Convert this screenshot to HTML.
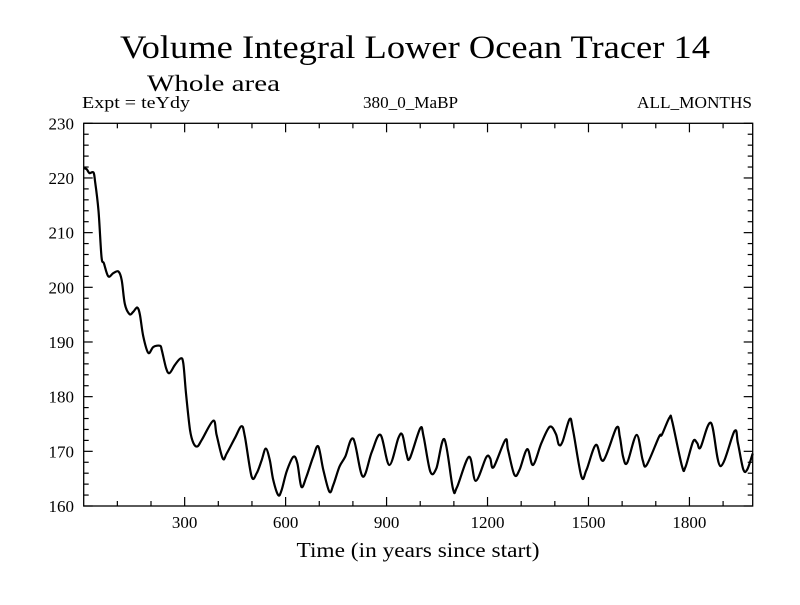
<!DOCTYPE html>
<html><head><meta charset="utf-8"><style>
body{margin:0;background:#fff}
svg text{font-family:"Liberation Serif",serif;fill:#000}
</style></head><body>
<svg id="chart" width="800" height="600" viewBox="0 0 800 600">
<text x="415" y="58" font-size="33" text-anchor="middle" textLength="590" lengthAdjust="spacingAndGlyphs">Volume Integral Lower Ocean Tracer 14</text>
<text x="147" y="91" font-size="23" textLength="133" lengthAdjust="spacingAndGlyphs">Whole area</text>
<text x="82" y="108" font-size="17" textLength="108" lengthAdjust="spacingAndGlyphs">Expt = teYdy</text>
<text x="363" y="108" font-size="17" textLength="95" lengthAdjust="spacingAndGlyphs">380_0_MaBP</text>
<text x="752" y="108" font-size="17" text-anchor="end" textLength="115" lengthAdjust="spacingAndGlyphs">ALL_MONTHS</text>
<text x="418" y="557" font-size="21" text-anchor="middle" textLength="243" lengthAdjust="spacingAndGlyphs">Time (in years since start)</text>
<g id="axes"></g>
<path id="series" fill="none" stroke="#000" stroke-width="2.2" stroke-linejoin="round"></path>
</svg>
<script>
const years=[1,9,17,29,34,44,53,60,73,88,103,113,122,136,147,159,167,177,192,207,227,232,245,255,271,288,296,304,316,326,338,351,385,395,413,425,449,469,479,499,514,529,541,553,563,578,588,603,623,635,647,662,682,697,712,730,742,760,777,801,829,856,882,908,935,947,959,969,1000,1010,1030,1048,1072,1097,1109,1145,1165,1196,1208,1218,1253,1261,1280,1295,1318,1335,1360,1385,1403,1412,1423,1444,1454,1479,1494,1522,1544,1583,1593,1603,1615,1643,1661,1673,1710,1718,1741,1749,1778,1788,1811,1823,1833,1864,1892,1934,1944,1960,1972,1988];
const values=[221.8,221.6,220.9,221,219.3,214,205.6,204.4,202,202.6,202.9,201.3,197,195.1,195.5,196.3,195,191,188,189.1,189.3,188.5,185.2,184.3,185.8,187,186.1,180.6,173.9,171.5,170.9,172.1,175.6,173,168.7,169.6,172.4,174.6,172.7,165.4,166,168.4,170.5,168.4,164.8,162,162.9,166.3,169,167.8,163.5,165.4,169,170.9,166.6,162.6,163.9,167.2,169,172.3,165.4,169.9,173,167.5,172.4,173,169.6,168.7,174.2,172.7,166.3,166.9,172.2,163.2,163.4,169,164.6,168.9,168.7,167.1,172.1,170.2,165.7,166.6,170.4,167.5,171.5,174.5,173.2,171.2,171.8,175.9,173.9,165.4,166.6,171.2,168.3,174.3,172.7,169,167.9,173,168.4,167.5,172.7,173,176.2,175.4,167.3,167.1,171.8,171.5,170.7,175.2,167.3,173.7,171.5,166.7,166.7,169.6];
const xTicks=[300,600,900,1200,1500,1800];
const yTicks=[160,170,180,190,200,210,220,230];
const X0=83.7,X1=752.7,Y0=506,Y1=123.3,XMIN=0,XMAX=1988,YMIN=160,YMAX=230;
const sx=v=>X0+(v-XMIN)/(XMAX-XMIN)*(X1-X0);
const sy=v=>Y0-(v-YMIN)/(YMAX-YMIN)*(Y0-Y1);
const NS="http://www.w3.org/2000/svg";
const ax=document.getElementById('axes');
function ln(x1,y1,x2,y2,name){const l=document.createElementNS(NS,'line');l.setAttribute('x1',x1);l.setAttribute('y1',y1);l.setAttribute('x2',x2);l.setAttribute('y2',y2);l.setAttribute('stroke','#000');l.setAttribute('stroke-width','1.2');


ax.appendChild(l);}
function tx(x,y,s,anchor,name){const t=document.createElementNS(NS,'text');t.setAttribute('x',x);t.setAttribute('y',y);t.setAttribute('font-size','17');t.setAttribute('text-anchor',anchor);t.textContent=s;


ax.appendChild(t);}
const fr=document.createElementNS(NS,'rect');
fr.setAttribute('x',X0);fr.setAttribute('y',Y1);fr.setAttribute('width',X1-X0);fr.setAttribute('height',Y0-Y1);fr.setAttribute('fill','none');fr.setAttribute('stroke','#000');fr.setAttribute('stroke-width','1.3');


ax.appendChild(fr);
for(let v=100;v<XMAX;v+=100){const major=v%300===0;const L=major?9:5;const x=sx(v);
ln(x,Y0,x,Y0-L,'x-tick');ln(x,Y1,x,Y1+L,'x-tick-top');}
xTicks.forEach(v=>tx(sx(v),528,String(v),'middle','x-tick-label'));
for(let v=YMIN;v<=YMAX;v+=2){const major=(v%10===0);const L=major?9:5;const y=sy(v);
ln(X0,y,X0+L,y,'y-tick');ln(X1,y,X1-L,y,'y-tick-right');}
yTicks.forEach(v=>tx(74,sy(v)+6,String(v),'end','y-tick-label'));
const pts=years.map((y,i)=>[sx(y),sy(values[i])]);
let d='M'+pts[0][0].toFixed(1)+','+pts[0][1].toFixed(1);
for(let i=0;i<pts.length-1;i++){const p0=pts[Math.max(0,i-1)],p1=pts[i],p2=pts[i+1],p3=pts[Math.min(pts.length-1,i+2)];
const c1=[p1[0]+(p2[0]-p0[0])/6,p1[1]+(p2[1]-p0[1])/6],c2=[p2[0]-(p3[0]-p1[0])/6,p2[1]-(p3[1]-p1[1])/6];
d+=' C'+c1.map(n=>n.toFixed(1)).join(',')+' '+c2.map(n=>n.toFixed(1)).join(',')+' '+p2.map(n=>n.toFixed(1)).join(',');}
document.getElementById('series').setAttribute('d',d);
</script>
</body></html>
